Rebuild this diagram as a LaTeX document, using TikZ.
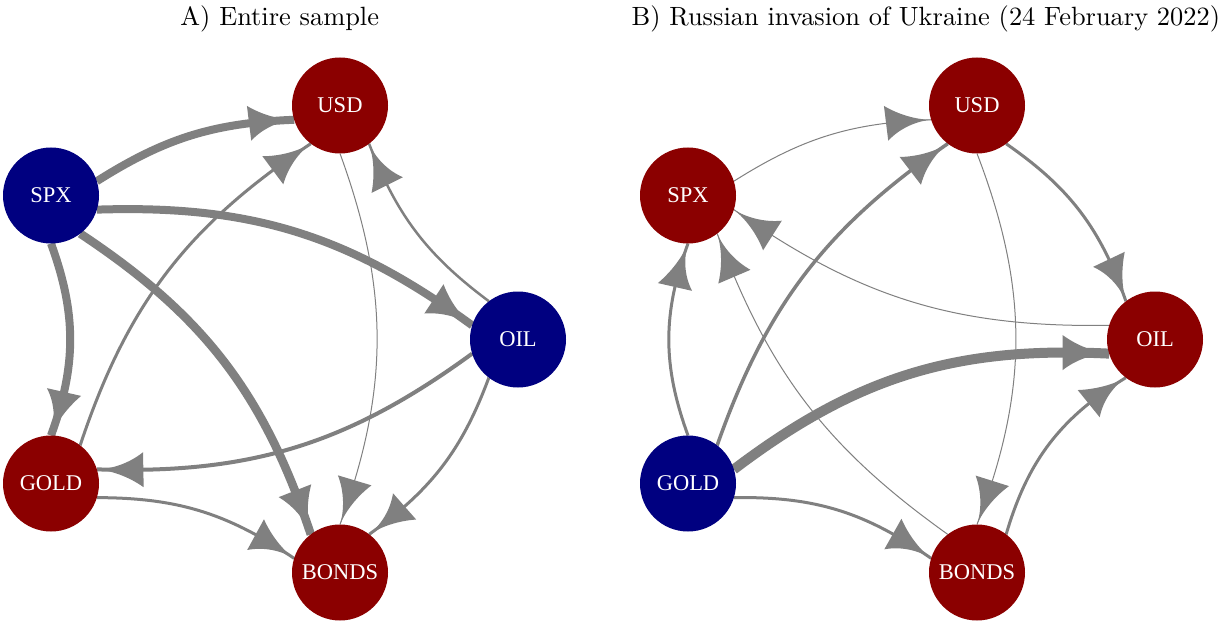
\documentclass[tikz,border=0pt]{standalone}
\usepackage{fontspec}
\newfontfamily\nodefont{Liberation Serif}
\usetikzlibrary{arrows.meta,calc,bending}
\pgfdeclarelayer{bg}
\pgfsetlayers{bg,main}
\definecolor{nred}{HTML}{8B0000}
\definecolor{nblue}{HTML}{000080}
\definecolor{egray}{HTML}{808080}
\pgfdeclarearrow{
  name = QArrow,
  parameters = {\the\pgfarrowlength,\the\pgfarrowwidth},
  setup code = {
    \pgfarrowssettipend{0pt}
    \pgfarrowssetlineend{0pt}
    \pgfarrowssetvisualbackend{-\pgfarrowlength}
    \pgfarrowssetbackend{-\pgfarrowlength}
    \pgfarrowshullpoint{0pt}{0pt}
    \pgfarrowsupperhullpoint{-\pgfarrowlength}{.5\pgfarrowwidth}
    \pgfarrowssavethe\pgfarrowlength
    \pgfarrowssavethe\pgfarrowwidth
  },
  drawing code = {
    \pgfpathmoveto{\pgfpointorigin}
    \pgfpathcurveto{\pgfpoint{-.3\pgfarrowlength}{.02\pgfarrowwidth}}{\pgfpoint{-.68\pgfarrowlength}{.19\pgfarrowwidth}}{\pgfpoint{-\pgfarrowlength}{.5\pgfarrowwidth}}
    \pgfpathlineto{\pgfpoint{-\pgfarrowlength}{-.5\pgfarrowwidth}}
    \pgfpathcurveto{\pgfpoint{-.68\pgfarrowlength}{-.19\pgfarrowwidth}}{\pgfpoint{-.3\pgfarrowlength}{-.02\pgfarrowwidth}}{\pgfpointorigin}
    \pgfpathclose
    \pgfusepathqfill
  },
  defaults = {length = 47pt, width = 33pt}
}
\tikzset{
  vred/.style={circle, fill=nred, minimum size=96pt, inner sep=0pt, text=white,
    font=\nodefont\fontsize{22.5}{27}\selectfont},
  vblue/.style={vred, fill=nblue},
  edgeline/.style={draw=egray, -{QArrow[length=48pt 0, width=35pt 0, bend]}},
  paneltitle/.style={anchor=base, scale=2.64, inner sep=0pt}
}
\newcommand\qedge[4]{%
  \draw[edgeline, line width=#3pt] ($(#1.center)!48pt!(#2.center)$) to[bend left=#4] ($(#2.center)!48pt!(#1.center)$);}
\begin{document}
\begin{tikzpicture}[x=1pt,y=1pt]
\useasboundingbox (0,0) rectangle (1219,-623);
\begin{pgfonlayer}{bg}
\fill[white] (0,0) rectangle (1219,-623);
\end{pgfonlayer}
% titles
\node[paneltitle] (tA) at (279.7,-26) {A) Entire sample};
\node[paneltitle] (tB) at (925.8,-26) {B) Russian invasion of Ukraine (24 February 2022)};
% panel A nodes
\node[vblue] (SPXa) at (51,-195.5) {SPX};
\node[vred] (USDa) at (340,-105.5) {USD};
\node[vblue] (OILa) at (518,-339.5) {OIL};
\node[vred] (GOLDa) at (51,-483.5) {GOLD};
\node[vred] (BONDSa) at (340,-572.5) {BONDS};
% panel B nodes
\node[vred] (SPXb) at (688,-195.5) {SPX};
\node[vred] (USDb) at (977,-105.5) {USD};
\node[vred] (OILb) at (1155,-339.5) {OIL};
\node[vblue] (GOLDb) at (688,-483.5) {GOLD};
\node[vred] (BONDSb) at (977,-572.5) {BONDS};
\begin{pgfonlayer}{bg}
% panel A edges
\qedge{SPXa}{USDa}{8}{15}
\qedge{GOLDa}{USDa}{3}{19}
\qedge{SPXa}{OILa}{8}{19}
\qedge{SPXa}{GOLDa}{8}{20}
\qedge{SPXa}{BONDSa}{8.5}{19}
\qedge{USDa}{BONDSa}{1}{20}
\qedge{OILa}{USDa}{2.5}{16}
\qedge{OILa}{GOLDa}{4}{19}
\qedge{OILa}{BONDSa}{3}{17}
\qedge{GOLDa}{BONDSa}{3}{17}
% panel B edges
\qedge{SPXb}{USDb}{1}{15}
\qedge{GOLDb}{USDb}{3.5}{18}
\qedge{USDb}{OILb}{3}{18}
\qedge{OILb}{SPXb}{1}{18}
\qedge{GOLDb}{SPXb}{3}{20}
\qedge{BONDSb}{SPXb}{1}{17}
\qedge{USDb}{BONDSb}{1}{21}
\qedge{GOLDb}{OILb}{10}{20}
\qedge{BONDSb}{OILb}{3}{21}
\qedge{GOLDb}{BONDSb}{3}{18}
\end{pgfonlayer}
\end{tikzpicture}
\end{document}
